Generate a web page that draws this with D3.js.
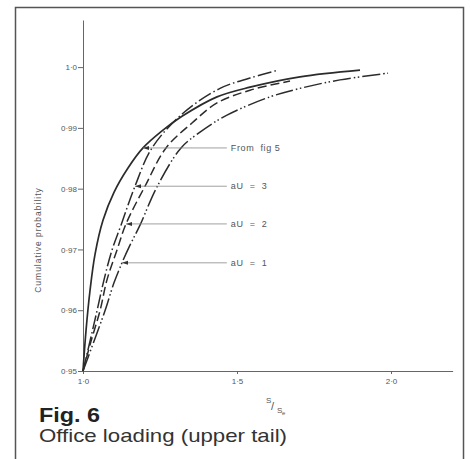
<!DOCTYPE html>
<html><head><meta charset="utf-8">
<script src="https://cdn.jsdelivr.net/npm/d3@7"></script>
<style>body{margin:0;background:#fff}svg{display:block}</style>
</head><body>
<script>
// ---- data ----
const xTicks = [1.0, 1.5, 2.0];
const xTickLabels = ["1·0", "1·5", "2·0"];
const yTicks = [0.95, 0.96, 0.97, 0.98, 0.99, 1.0];
const yTickLabels = ["0·95", "0·96", "0·97", "0·98", "0·99", "1·0"];

const seriesNames = ["From fig 5", "aU = 3", "aU = 2", "aU = 1"];

const fromFig5X = [1.000,1.0097,1.0227,1.039,1.0649,1.1006,1.1461,1.1948,1.2565,1.3214,1.4351,1.5422,1.7045,1.8994];
const fromFig5Y = [0.9500,0.9566,0.9632,0.9692,0.9748,0.9794,0.9834,0.9867,0.9895,0.9919,0.9951,0.9967,0.9984,0.9995];

const aU3X = [1.000,1.0227,1.0455,1.0682,1.0942,1.1234,1.1688,1.2240,1.3247,1.4448,1.5422,1.6331];
const aU3Y = [0.9500,0.9549,0.9599,0.9650,0.9699,0.9740,0.9804,0.9867,0.9924,0.9965,0.9982,0.9995];

const aU2X = [1.000,1.026,1.0552,1.0779,1.1104,1.1396,1.2013,1.2695,1.3539,1.4351,1.5422,1.6721];
const aU2Y = [0.9500,0.9549,0.9599,0.9650,0.9699,0.9742,0.9804,0.9867,0.9908,0.9941,0.9962,0.9977];

const aU1X = [1.000,1.0357,1.0714,1.1006,1.1266,1.1526,1.1851,1.2403,1.3182,1.3799,1.4675,1.6071,1.7045,1.8344,1.9903];
const aU1Y = [0.9500,0.9549,0.9599,0.9645,0.9678,0.9707,0.9740,0.9803,0.9867,0.9893,0.9921,0.9951,0.9965,0.9979,0.9990];

// where each label's arrow touches its curve
const arrowTipX = [1.1948, 1.1688, 1.1396, 1.1266];
const arrowTipY = [0.9867, 0.9804, 0.9742, 0.9678];
const labelX = 1.48;

// ---- drawing ----
const W = 470, H = 459;
const svg = d3.select("body").append("svg").attr("width", W).attr("height", H);
const FONT = "Liberation Sans, Arial, sans-serif";

// frame
svg.append("rect").attr("x", 15.5).attr("y", 7.5).attr("width", 448).attr("height", 460)
  .attr("fill", "none").attr("stroke", "#555").attr("stroke-width", 1.5);

const x = d3.scaleLinear().domain([1.0, 2.2]).range([83, 452.6]);
const y = d3.scaleLinear().domain([0.95, 1.00775]).range([371, 20]);

const axisColor = "#666", textColor = "#555";

// axes
const yAxis = svg.append("g").attr("transform", "translate(83,0)")
  .call(d3.axisLeft(y).tickValues(yTicks).tickFormat((d, i) => yTickLabels[i]).tickSize(5).tickPadding(1).tickSizeOuter(0));
const xAxis = svg.append("g").attr("transform", "translate(0,371)")
  .call(d3.axisBottom(x).tickValues(xTicks).tickFormat((d, i) => xTickLabels[i]).tickSize(3).tickPadding(4).tickSizeOuter(0));
[yAxis, xAxis].forEach(g => {
  g.selectAll("path,line").attr("stroke", axisColor).attr("stroke-width", 1);
  g.selectAll("text").attr("fill", textColor).attr("font-family", FONT).attr("font-size", 8);
});

// y title
svg.append("text").attr("transform", "translate(41,240) rotate(-90)")
  .attr("text-anchor", "middle").attr("fill", textColor)
  .attr("font-family", FONT).attr("font-size", 8.5)
  .attr("letter-spacing", 1).text("Cumulative  probability");

// x title  S/Se
const xt = svg.append("g").attr("fill", textColor).attr("font-family", FONT);
xt.append("text").attr("x", 266).attr("y", 403).attr("font-size", 8).text("S");
xt.append("text").attr("x", 271).attr("y", 410).attr("font-size", 11).text("/");
xt.append("text").attr("x", 277).attr("y", 413).attr("font-size", 8).text("S");
xt.append("text").attr("x", 282).attr("y", 415).attr("font-size", 6).text("e");

// curves
const series = [
  {xs: fromFig5X, ys: fromFig5Y, dash: null, w: 1.7},
  {xs: aU3X, ys: aU3Y, dash: "14,3,1.5,3", w: 1.5},
  {xs: aU2X, ys: aU2Y, dash: "9,4", w: 1.5},
  {xs: aU1X, ys: aU1Y, dash: "18,3,1.5,2.5,1.5,3", w: 1.5}
];
const line = d3.line().x(d => x(d[0])).y(d => y(d[1])).curve(d3.curveCatmullRom.alpha(0.5));
series.forEach(s => {
  const pts = s.xs.map((v, i) => [v, s.ys[i]]);
  svg.append("path").attr("d", line(pts)).attr("fill", "none")
    .attr("stroke", "#2b2b2b").attr("stroke-width", s.w)
    .attr("stroke-dasharray", s.dash).attr("stroke-linecap", "butt");
});

// annotations
seriesNames.forEach((name, i) => {
  const tx = x(arrowTipX[i]), ty = y(arrowTipY[i]);
  const lx = x(labelX);
  svg.append("line").attr("x1", tx).attr("y1", ty).attr("x2", lx - 4).attr("y2", ty)
    .attr("stroke", "#888").attr("stroke-width", 0.8);
  svg.append("path").attr("d", `M${tx},${ty} l6,-2 l0,4 z`).attr("fill", "#333");
  svg.append("text").attr("x", lx).attr("y", ty + 3).attr("fill", textColor)
    .attr("font-family", FONT).attr("font-size", 9)
    .attr("letter-spacing", 0.6).style("white-space", "pre")
    .text(name.replace(" = ", "  =  ").replace("fig", " fig"));
});

// caption
svg.append("text").attr("x", 39).attr("y", 422).attr("fill", "#222")
  .attr("font-family", FONT).attr("font-weight", "bold")
  .attr("font-size", 20).attr("textLength", 61).attr("lengthAdjust", "spacingAndGlyphs").text("Fig. 6");
svg.append("text").attr("x", 39).attr("y", 442).attr("fill", "#333")
  .attr("font-family", FONT)
  .attr("font-size", 19).attr("textLength", 248).attr("lengthAdjust", "spacingAndGlyphs").text("Office loading (upper tail)");
</script>
</body></html>
